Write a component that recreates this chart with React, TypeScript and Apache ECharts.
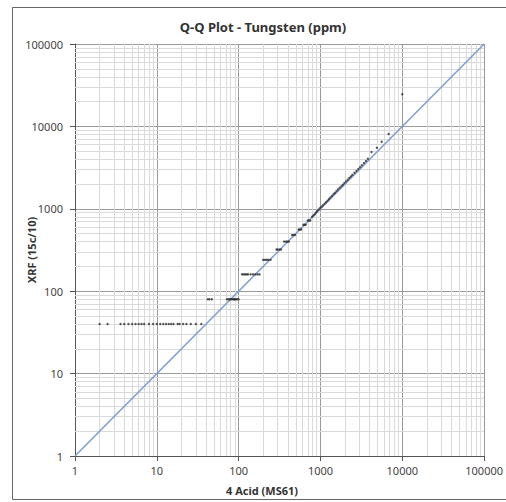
import React, { useEffect, useRef } from "react";
import * as echarts from "echarts";

// 4 Acid (MS61) quantiles and matching XRF (15c/10) quantiles, ppm
const acidValues: number[] = [
  2, 2.5, 3.6, 4, 4.5, 5, 5.5, 6, 6.5, 7, 8, 9, 10, 11, 12, 13, 14, 15, 16, 18, 19, 21, 23, 26, 30, 35,
  42, 44, 47, 72, 75, 78, 80, 83, 86, 88, 90, 93, 96, 100,
  110, 115, 120, 125, 130, 140, 150, 160, 170, 180,
  200, 210, 220, 230, 245,
  290, 300, 315, 330,
  360, 380, 395, 410,
  450, 470, 490,
  540, 560, 580,
  620, 640, 660,
  700, 720, 750,
  790, 820, 850,
  880, 910, 950, 990, 1030, 1070, 1120, 1170, 1220, 1270, 1320, 1380, 1440,
  1500, 1570, 1640, 1720, 1800, 1880, 1960, 2050, 2150, 2250, 2350, 2450,
  2600, 2750, 2900, 3050, 3200, 3400, 3600, 3800,
  4200, 4900, 5600, 6800, 10000,
];
const xrfValues: number[] = [
  40, 40, 40, 40, 40, 40, 40, 40, 40, 40, 40, 40, 40, 40, 40, 40, 40, 40, 40, 40, 40, 40, 40, 40, 40, 40,
  80, 80, 80, 80, 80, 80, 80, 80, 80, 80, 80, 80, 80, 80,
  160, 160, 160, 160, 160, 160, 160, 160, 160, 160,
  240, 240, 240, 240, 240,
  320, 320, 320, 320,
  400, 400, 400, 400,
  480, 480, 480,
  560, 560, 560,
  640, 640, 640,
  720, 720, 720,
  800, 830, 860,
  900, 940, 980, 1020, 1060, 1100, 1150, 1200, 1250, 1310, 1370, 1430, 1500,
  1560, 1640, 1720, 1800, 1880, 1960, 2050, 2150, 2250, 2360, 2470, 2580,
  2730, 2880, 3040, 3200, 3380, 3580, 3800, 4050,
  4900, 5500, 6500, 8100, 24500,
];
// 1:1 reference line end points
const refLine: number[] = [1, 100000];
// log axis decades and minor grid multipliers
const decades: number[] = [1, 10, 100, 1000, 10000];
const minorSteps: number[] = [2, 3, 4, 5, 6, 7, 8, 9];

const TITLE = "Q-Q Plot - Tungsten (ppm)";
const X_NAME = "4 Acid (MS61)";
const Y_NAME = "XRF (15c/10)";

export default function App() {
  const ref = useRef<HTMLDivElement>(null);
  useEffect(() => {
    if (!ref.current) return;
    const chart = echarts.init(ref.current, undefined, { renderer: "svg" });
    const font = "'Noto Sans', 'Open Sans', sans-serif";
    const points = acidValues.map((a, i) => [a, xrfValues[i]]);
    const minorVals: number[] = [];
    decades.forEach((d) => minorSteps.forEach((m) => minorVals.push(d * m)));
    const minorLines = [
      ...minorVals.map((v) => ({ xAxis: v })),
      ...minorVals.map((v) => ({ yAxis: v })),
    ];
    const axisCommon = {
      type: "log" as const,
      logBase: 10,
      min: 1,
      max: 100000,
      axisLine: { show: true, lineStyle: { color: "#555", width: 1 } },
      axisTick: { show: true, inside: false, length: 5, lineStyle: { color: "#555" } },
      axisLabel: {
        color: "#444",
        fontFamily: font,
        fontSize: 11,
        formatter: (v: number) => String(Math.round(v)),
      },
      splitLine: { show: true, lineStyle: { color: "#9a9a9a", width: 1 } },
      minorTick: { show: false },
      minorSplitLine: { show: false },
    };
    chart.setOption({
      animation: false,
      backgroundColor: "#ffffff",
      grid: { left: 75, right: 20, top: 44, bottom: 46, containLabel: false },
      xAxis: { ...axisCommon, axisLabel: { ...axisCommon.axisLabel, margin: 9 } },
      yAxis: { ...axisCommon, axisLabel: { ...axisCommon.axisLabel, margin: 12 } },
      graphic: [
        {
          type: "rect",
          shape: { x: 12.5, y: 7.5, width: 520, height: 492 },
          style: { fill: "none", stroke: "#666", lineWidth: 1 },
          silent: true,
        },
        {
          type: "text",
          x: 263,
          y: 27,
          style: {
            text: TITLE,
            fill: "#333",
            font: `bold 13px ${font}`,
            textAlign: "center",
            textVerticalAlign: "middle",
          },
        },
        {
          type: "text",
          x: 262,
          y: 490,
          style: {
            text: X_NAME,
            fill: "#333",
            font: `bold 11px ${font}`,
            textAlign: "center",
            textVerticalAlign: "middle",
          },
        },
        {
          type: "text",
          x: 31,
          y: 250,
          rotation: Math.PI / 2,
          style: {
            text: Y_NAME,
            fill: "#333",
            font: `bold 11px ${font}`,
            textAlign: "center",
            textVerticalAlign: "middle",
          },
        },
      ],
      series: [
        {
          type: "scatter",
          data: [],
          z: 1,
          silent: true,
          markLine: {
            silent: true,
            z: 1,
            symbol: ["none", "none"],
            label: { show: false },
            lineStyle: { color: "#dadada", width: 1, type: "solid" },
            emphasis: { disabled: true },
            data: minorLines,
            animation: false,
          },
        },
        {
          type: "line",
          data: [
            [refLine[0], refLine[0]],
            [refLine[1], refLine[1]],
          ],
          symbol: "none",
          lineStyle: { color: "#7f9fd3", width: 1.6 },
          z: 6,
          silent: true,
        },
        {
          type: "scatter",
          data: points,
          symbol: "circle",
          symbolSize: 2.4,
          itemStyle: { color: "#2a2a2a" },
          z: 7,
          silent: true,
        },
      ],
    });
    return () => chart.dispose();
  }, []);
  return (
    <div
      ref={ref}
      style={{ position: "fixed", left: 0, top: 0, width: 506, height: 502, background: "#fff" }}
    />
  );
}
